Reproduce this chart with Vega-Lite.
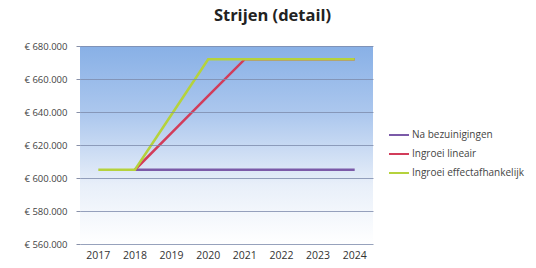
{
  "$schema": "https://vega.github.io/schema/vega-lite/v6.json",
  "autosize": "none",
  "width": 293,
  "height": 198,
  "padding": {"left": 80, "top": 46, "right": 163, "bottom": 24},
  "background": "white",
  "title": {"text": "Strijen (detail)", "fontSize": 16.5, "font": "Open Sans", "fontWeight": "bold", "color": "#222222", "anchor": "middle", "dx": 46, "offset": 17},
  "config": {"view": {"stroke": null}, "font": "Open Sans"},
  "datasets": {
    "series": [
      {"jaar": "2018", "serie": "Na bezuinigingen", "waarde": 605000},
      {"jaar": "2019", "serie": "Na bezuinigingen", "waarde": 605000},
      {"jaar": "2020", "serie": "Na bezuinigingen", "waarde": 605000},
      {"jaar": "2021", "serie": "Na bezuinigingen", "waarde": 605000},
      {"jaar": "2022", "serie": "Na bezuinigingen", "waarde": 605000},
      {"jaar": "2023", "serie": "Na bezuinigingen", "waarde": 605000},
      {"jaar": "2024", "serie": "Na bezuinigingen", "waarde": 605000},
      {"jaar": "2018", "serie": "Ingroei lineair", "waarde": 605000},
      {"jaar": "2019", "serie": "Ingroei lineair", "waarde": 627300},
      {"jaar": "2020", "serie": "Ingroei lineair", "waarde": 649700},
      {"jaar": "2021", "serie": "Ingroei lineair", "waarde": 672000},
      {"jaar": "2022", "serie": "Ingroei lineair", "waarde": 672000},
      {"jaar": "2023", "serie": "Ingroei lineair", "waarde": 672000},
      {"jaar": "2024", "serie": "Ingroei lineair", "waarde": 672000},
      {"jaar": "2017", "serie": "Ingroei effectafhankelijk", "waarde": 605000},
      {"jaar": "2018", "serie": "Ingroei effectafhankelijk", "waarde": 605000},
      {"jaar": "2019", "serie": "Ingroei effectafhankelijk", "waarde": 638500},
      {"jaar": "2020", "serie": "Ingroei effectafhankelijk", "waarde": 672000},
      {"jaar": "2021", "serie": "Ingroei effectafhankelijk", "waarde": 672000},
      {"jaar": "2022", "serie": "Ingroei effectafhankelijk", "waarde": 672000},
      {"jaar": "2023", "serie": "Ingroei effectafhankelijk", "waarde": 672000},
      {"jaar": "2024", "serie": "Ingroei effectafhankelijk", "waarde": 672000}
    ]
  },
  "layer": [
    {
      "data": {"values": [{"top": 680000, "bottom": 560000}]},
      "mark": {"type": "rect", "fill": {"gradient": "linear", "x1": 0, "y1": 0, "x2": 0, "y2": 1, "stops": [{"offset": 0, "color": "#88b0e6"}, {"offset": 0.35, "color": "#adc8ee"}, {"offset": 0.7, "color": "#e8eff9"}, {"offset": 1, "color": "#ffffff"}]}},
      "encoding": {
        "y": {"field": "top", "type": "quantitative", "scale": {"domain": [560000, 680000]}, "axis": {"title": null, "zindex": 1, "labelOverlap": false, "values": [560000, 580000, 600000, 620000, 640000, 660000, 680000], "labelExpr": "'€ ' + replace(format(datum.value, ','), ',', '.')", "labelFontSize": 9.5, "labelColor": "#444444", "labelPadding": 9, "ticks": true, "tickColor": "#8890a8", "tickSize": 4, "domain": false, "gridColor": "#7d8bab", "gridOpacity": 0.8, "gridWidth": 1}},
        "y2": {"field": "bottom"}
      }
    },
    {
      "data": {"name": "series"},
      "mark": {"type": "line", "strokeWidth": 2.5},
      "encoding": {
        "x": {"field": "jaar", "type": "ordinal", "scale": {"type": "band", "paddingInner": 0, "paddingOuter": 0, "domain": ["2017","2018","2019","2020","2021","2022","2023","2024"]}, "axis": {"title": null, "labelAngle": 0, "ticks": false, "domain": false, "labelFontSize": 10.5, "labelColor": "#333333", "labelPadding": 6}},
        "y": {"field": "waarde", "type": "quantitative", "scale": {"domain": [560000, 680000]}, "axis": {"title": null, "zindex": 1, "labelOverlap": false, "values": [560000, 580000, 600000, 620000, 640000, 660000, 680000], "labelExpr": "'€ ' + replace(format(datum.value, ','), ',', '.')", "labelFontSize": 9.5, "labelColor": "#444444", "labelPadding": 9, "ticks": true, "tickColor": "#8890a8", "tickSize": 4, "domain": false, "gridColor": "#7d8bab", "gridOpacity": 0.8, "gridWidth": 1}},
        "color": {"field": "serie", "type": "nominal", "sort": ["Na bezuinigingen", "Ingroei lineair", "Ingroei effectafhankelijk"], "scale": {"domain": ["Na bezuinigingen", "Ingroei lineair", "Ingroei effectafhankelijk"], "range": ["#7b5aa8", "#d23c5a", "#b5d23c"]}, "legend": {"title": null, "orient": "none", "legendX": 308, "legendY": 78, "symbolType": "stroke", "symbolSize": 400, "symbolStrokeWidth": 2, "labelFontSize": 10, "labelColor": "#444444", "rowPadding": 3, "labelOffset": 2}},
        "order": {"field": "serie"}
      }
    }
  ]
}
